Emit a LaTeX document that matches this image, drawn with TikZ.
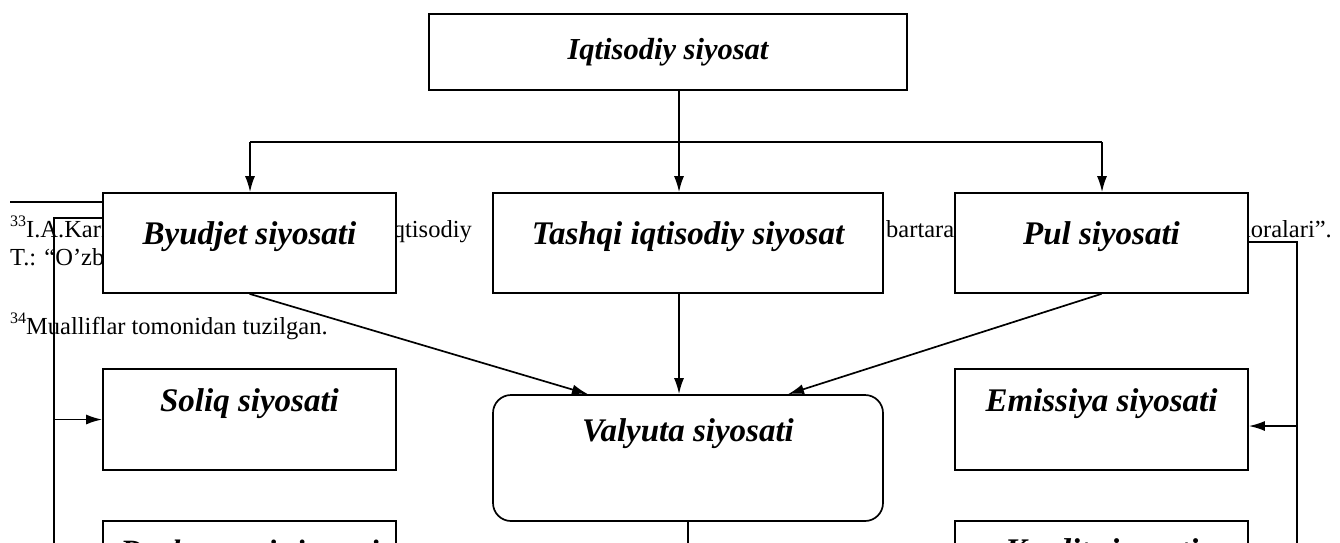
\documentclass[tikz,border=0pt]{standalone}
\usepackage{fontspec}
\setmainfont{Liberation Serif}
\usetikzlibrary{arrows.meta,calc}
\newcommand\fnsup[1]{\raisebox{0.42em}{\fontsize{16}{16}\selectfont #1}}
\tikzset{
  boxst/.style={draw, line width=1.7pt, fill=white, inner sep=0pt},
  lbl/.style={font=\fontsize{33}{38}\selectfont\bfseries\itshape, anchor=base, inner sep=0pt},
  fn/.style={font=\fontsize{24.5}{28}\selectfont, inner sep=0pt},
  ln/.style={line width=1.7pt},
  arr/.style={ln, -{Latex[length=16pt,width=10pt]}},
}
\begin{document}
\begin{tikzpicture}[x=1pt,y=-1pt]
\clip (0,0) rectangle (1340,542);
% background footnote material
\coordinate (fra) at (10,202);
\coordinate (frb) at (250,202);
\draw[line width=1.5pt] (fra) -- (frb);
\node[fn, anchor=base west] (f1a) at (10,237) {\fnsup{33}I.A.Karimov};
\node[fn, anchor=base east] (f1b) at (472,237) {iqtisodiy};
\node[fn, anchor=base west] (f1c) at (886,237) {bartaraf};
\node[fn, anchor=base east] (f1d) at (1332,237) {noralari”.};
\node[fn, anchor=base west] (f2) at (10,265) {T.: “O’zbekiston”};
\node[fn, anchor=base west] (f3) at (10,334) {\fnsup{34}Mualliflar tomonidan tuzilgan.};

% boxes
\node[boxst, minimum width=478, minimum height=76] (top) at (668,52) {};
\node[boxst, minimum width=293, minimum height=100] (byudjet) at (249.5,243) {};
\node[boxst, minimum width=390, minimum height=100] (tashqi) at (688,243) {};
\node[boxst, minimum width=293, minimum height=100] (pul) at (1101.5,243) {};
\node[boxst, minimum width=293, minimum height=101] (soliq) at (249.5,419.5) {};
\node[boxst, minimum width=293, minimum height=101] (emissiya) at (1101.5,419.5) {};
\node[boxst, rounded corners=18pt, minimum width=390, minimum height=126] (valyuta) at (688,458) {};
\node[boxst, minimum width=293, minimum height=100] (bl) at (249.5,571) {};
\node[boxst, minimum width=293, minimum height=100] (br) at (1101.5,571) {};

% texts
\node[lbl, font=\fontsize{30.5}{36}\selectfont\bfseries\itshape] (topt) at ($(top.north)+(0,46)$) {Iqtisodiy siyosat};
\node[lbl] (byudjett) at ($(byudjet.north)+(0,52)$) {Byudjet siyosati};
\node[lbl] (tashqit) at ($(tashqi.north)+(0,52)$) {Tashqi iqtisodiy siyosat};
\node[lbl] (pult) at ($(pul.north)+(0,52)$) {Pul siyosati};
\node[lbl] (soliqt) at ($(soliq.north)+(0,43)$) {Soliq siyosati};
\node[lbl] (emissiyat) at ($(emissiya.north)+(0,43)$) {Emissiya siyosati};
\node[lbl] (valyutat) at ($(valyuta.north)+(0,47)$) {Valyuta siyosati};
\node[lbl, font=\fontsize{31}{36}\selectfont\bfseries\itshape] (blt) at ($(bl.north)+(0,41)$) {Davlat qarzi siyosati};
\node[lbl] (brt) at ($(br.north)+(0,41)$) {Kredit siyosati};

% connectors
\coordinate (jl) at (250,142);
\coordinate (jm) at (679,142);
\coordinate (jr) at (1102,142);
\draw[ln] (top.south -| jm) -- (jm);
\draw[ln] (jl) -- (jr);
\draw[arr] (jl) -- (jl |- byudjet.north);
\draw[arr] (jm) -- (jm |- tashqi.north);
\draw[arr] (jr) -- (jr |- pul.north);

\draw[arr] (byudjet.south) -- ([xshift=-100pt]valyuta.north);
\draw[arr] (tashqi.south -| jm) -- (valyuta.north -| jm);
\draw[arr] (pul.south) -- ([xshift=100pt]valyuta.north);

\coordinate (vend) at (688,570);
\draw[ln] (valyuta.south) -- (vend);

\coordinate (lc) at (54,218);
\coordinate (lb) at (54,600);
\draw[ln] ([yshift=25pt]byudjet.west) -- (lc) -- (lb);
\draw[arr] (lc |- soliq.west) -- (soliq.west);

\coordinate (rc) at (1297,242);
\coordinate (rb) at (1297,600);
\coordinate (ea) at ([yshift=-6.5pt]emissiya.east);
\draw[ln] ([yshift=1pt]pul.east) -- (rc) -- (rb);
\draw[arr] (rc |- ea) -- (ea);
\end{tikzpicture}
\end{document}
